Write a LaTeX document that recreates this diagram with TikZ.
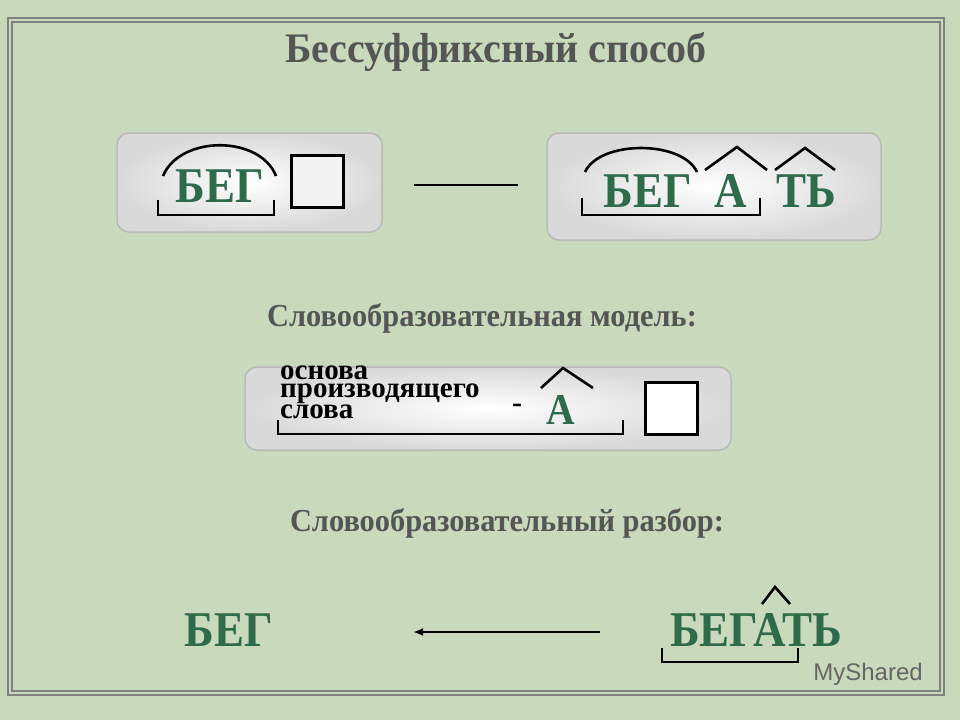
\documentclass[tikz,border=0pt]{standalone}
\usepackage{fontspec}
\usetikzlibrary{arrows.meta}
\setmainfont{Liberation Serif}
\newfontfamily\sansf{Liberation Sans}
\definecolor{bg}{HTML}{C9D9BC}
\definecolor{grn}{HTML}{2E6B4A}
\definecolor{ttl}{HTML}{555555}
\begin{document}
\begin{tikzpicture}[x=1pt,y=-1pt,
  panel/.style={draw=gray!55,line width=1.5pt,rounded corners=12pt,inner color=white,outer color=gray!30},
  gw/.style={text=grn,font=\bfseries\fontsize{50}{50}\selectfont,inner sep=0pt,xscale=0.9},
  hd/.style={text=ttl,font=\bfseries\fontsize{32}{32}\selectfont,inner sep=0pt,xscale=0.95},
  mk/.style={line width=2.6pt,black},
  sq/.style={draw,line width=3pt,fill=white!50!gray!20}]
\fill[bg] (0,0) rectangle (960,720);
\draw[gray,line width=1.5pt] (8,18) rectangle (944,695);
\draw[gray,line width=1.5pt] (12,22) rectangle (940,691);
\node[hd,font=\bfseries\fontsize{42}{42}\selectfont] (t) at (496,52) {Бессуффиксный способ};
% row 1
\draw[panel] (117,133) rectangle (382,232);
\draw[panel] (547,133) rectangle (881,240);
\node[gw] (b1) at (220,186) {БЕГ};
\draw[mk] (163,176) .. controls (180,135) and (260,135) .. (276,176);
\draw[mk] (158,200) -- (158,215) -- (274,215) -- (274,200);
\node[sq,minimum width=52pt,minimum height=52pt] (s1) at (317,181) {};
\coordinate (d1) at (414,185); \coordinate (d2) at (518,185);
\draw[line width=2.6pt] (d1) -- (d2);
\node[gw] (b2) at (648,191) {БЕГ};
\node[gw] (a2) at (731,191) {А};
\node[gw] (t2) at (806,191) {ТЬ};
\draw[mk] (585,172) .. controls (600,140) and (682,140) .. (697,172);
\draw[mk] (705,170) -- (737,147) -- (767,170);
\draw[mk] (775,170) -- (805,148) -- (835,170);
\draw[mk] (582,198) -- (582,215) -- (760,215) -- (760,198);
% row 2
\node[hd] (h2) at (482,318) {Словообразовательная модель:};
\draw[panel] (245,367) rectangle (731,450);
\node[inner sep=0pt,anchor=north west,align=left,font=\bfseries\fontsize{29}{18}\selectfont] (os) at (280,366) {основа\\производящего\\слова};
\node[inner sep=0pt,font=\bfseries\fontsize{30}{30}\selectfont] (dash) at (517,408) {-};
\node[gw,font=\bfseries\fontsize{44}{44}\selectfont] (a3) at (561,410) {А};
\draw[mk] (541,388) -- (563,368) -- (593,388);
\draw[mk] (278,420) -- (278,434) -- (623,434) -- (623,420);
\node[sq,minimum width=52pt,minimum height=52pt,fill=white] (s3) at (671,408) {};
% row 3
\node[hd] (h3) at (507,523) {Словообразовательный разбор:};
\node[gw] (b4) at (229,630) {БЕГ};
\node[gw] (b5) at (756,630) {БЕГАТЬ};
\coordinate (ar1) at (600,632); \coordinate (ar2) at (413,632);
\draw[line width=2.6pt,-{Latex[length=10pt,width=8pt]}] (ar1) -- (ar2);
\draw[mk] (762,604) -- (775,587) -- (790,604);
\draw[mk] (662,648) -- (662,662) -- (798,662) -- (798,648);
\node[text=gray!80!black,font=\sansf\fontsize{24}{24}\selectfont,inner sep=0pt] (ms) at (868,674) {MyShared};
\end{tikzpicture}
\end{document}
